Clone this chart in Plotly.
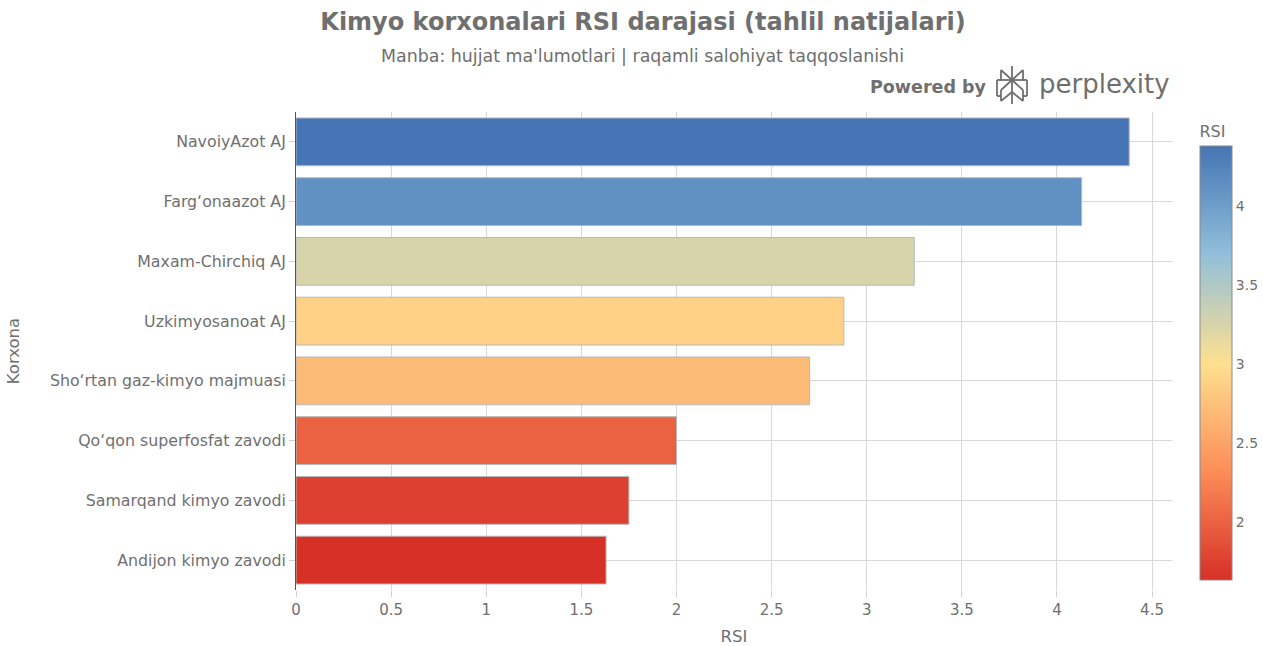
import plotly.graph_objects as go

companies = [
    "Andijon kimyo zavodi",
    "Samarqand kimyo zavodi",
    "Qo'qon superfosfat zavodi",
    "Sho'rtan gaz-kimyo majmuasi",
    "Uzkimyosanoat AJ",
    "Maxam-Chirchiq AJ",
    "Farg'onaazot AJ",
    "NavoiyAzot AJ",
]
companies = [c.replace("'", "\u2018") for c in companies]
rsi = [1.63, 1.75, 2.00, 2.70, 2.88, 3.25, 4.13, 4.38]

x_ticks = [0, 0.5, 1, 1.5, 2, 2.5, 3, 3.5, 4, 4.5]
cbar_ticks = [2, 2.5, 3, 3.5, 4]

colorscale = [
    [0.0, "#d73027"],
    [0.25, "#fc8d59"],
    [0.5, "#fee090"],
    [0.75, "#91bfdb"],
    [1.0, "#4575b4"],
]

FONT = "DejaVu Sans, Verdana, sans-serif"
GREY = "#6f6f6f"

# the page body margin is removed below, so figure pixels == screen pixels
OFF = 0
W, H = 1263, 646
# plot area in screen pixels
SX0, SX1, SY0, SY1 = 296, 1172, 112, 590
L = SX0 - OFF
R = W - (SX1 - OFF)
T = SY0 - OFF
B = H - (SY1 - OFF)
PW, PH = W - L - R, H - T - B


def px(xs):
    return (xs - SX0) / PW


def py(ys):
    return (SY1 - ys) / PH


fig = go.Figure(
    go.Bar(
        x=rsi,
        y=companies,
        orientation="h",
        width=0.8,
        marker=dict(
            color=rsi,
            colorscale=colorscale,
            cmin=min(rsi),
            cmax=max(rsi),
            line=dict(color="#b8b8b8", width=1),
            colorbar=dict(
                title=dict(text="RSI", side="top", font=dict(size=16, color=GREY)),
                thickness=32,
                thicknessmode="pixels",
                len=458,
                lenmode="pixels",
                x=px(1200),
                xanchor="left",
                xpad=0,
                y=py(580),
                yanchor="bottom",
                ypad=0,
                outlinecolor="#8a8a8a",
                outlinewidth=1,
                ticks="",
                tickfont=dict(size=14, color=GREY),
                tickvals=cbar_ticks,
                ticktext=[f"{v:g}" for v in cbar_ticks],
            ),
        ),
        showlegend=False,
    )
)

fig.update_layout(
    width=W,
    height=H,
    margin=dict(l=L, r=R, t=T, b=B, autoexpand=False),
    paper_bgcolor="white",
    plot_bgcolor="white",
    font=dict(family=FONT, color=GREY, size=15),
    title=dict(
        text="<b>Kimyo korxonalari RSI darajasi (tahlil natijalari)</b>",
        x=(643 - OFF) / W,
        xanchor="center",
        y=1 - (22 - OFF) / H,
        yanchor="middle",
        font=dict(size=24, color=GREY, family=FONT),
    ),
    bargap=0.2,
)

fig.update_xaxes(
    title=dict(text="RSI", font=dict(size=16.5, color=GREY), standoff=13),
    range=[0, 4.605],
    tickvals=x_ticks,
    ticktext=[f"{v:g}" for v in x_ticks],
    showgrid=True,
    gridcolor="#d8d8d8",
    gridwidth=1,
    ticks="outside",
    ticklen=6,
    tickcolor="#d0d0d0",
    tickfont=dict(size=15, color=GREY),
    zeroline=False,
    showline=False,
    automargin=False,
)
fig.update_yaxes(
    title=dict(text="Korxona", font=dict(size=16.5, color=GREY), standoff=26),
    showgrid=True,
    gridcolor="#d8d8d8",
    gridwidth=1,
    ticks="outside",
    ticklen=6,
    tickcolor="#d0d0d0",
    tickfont=dict(size=15.8, color=GREY),
    showline=True,
    linecolor="#555555",
    linewidth=1,
    zeroline=False,
    automargin=False,
)

fig.add_annotation(
    text="Manba: hujjat ma'lumotlari | raqamli salohiyat taqqoslanishi",
    xref="paper", yref="paper",
    x=px(642), y=py(56),
    xanchor="center", yanchor="middle",
    showarrow=False,
    font=dict(size=17.4, color=GREY),
)
fig.add_annotation(
    text="<b>Powered by</b>",
    xref="paper", yref="paper",
    x=px(868), y=py(87),
    xanchor="left", yanchor="middle",
    showarrow=False,
    font=dict(size=17.5, color=GREY),
)
fig.add_annotation(
    text="perplexity",
    xref="paper", yref="paper",
    x=px(1037), y=py(84),
    xanchor="left", yanchor="middle",
    showarrow=False,
    font=dict(size=26, color=GREY),
)

# perplexity-like logo glyph (screen pixel coordinates)
logo_lines = [
    ((1012, 66), (1012, 104)),
    ((1001, 70), (1012, 80)),
    ((1023, 70), (1012, 80)),
    ((1001, 70), (1001, 80)),
    ((1023, 70), (1023, 80)),
    ((997, 80), (1027, 80)),
    ((1012, 80), (1001, 90)),
    ((1012, 80), (1023, 90)),
    ((1001, 90), (1001, 101)),
    ((1023, 90), (1023, 101)),
    ((1001, 101), (1012, 92)),
    ((1023, 101), (1012, 92)),
    ((997, 80), (997, 96)),
    ((997, 96), (1001, 96)),
    ((1027, 80), (1027, 96)),
    ((1027, 96), (1023, 96)),
]
for (x0, y0), (x1, y1) in logo_lines:
    fig.add_shape(
        type="line", xref="paper", yref="paper",
        x0=px(x0), y0=py(y0), x1=px(x1), y1=py(y1),
        line=dict(color=GREY, width=1.8),
    )

fig.write_html(
    "out.html",
    config={"displayModeBar": False},
    post_script="document.body.style.margin='0';document.body.style.overflow='hidden';",
)
